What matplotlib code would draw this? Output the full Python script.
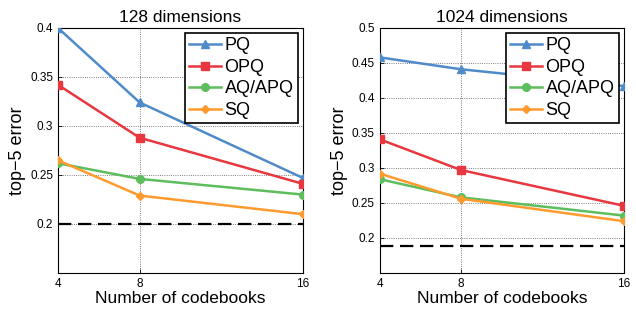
import numpy as np
import matplotlib.pyplot as plt

plt.rcParams['font.family'] = ['Liberation Sans', 'DejaVu Sans']

codebooks = [4, 8, 16]
methods = ['PQ', 'OPQ', 'AQ/APQ', 'SQ']
colors = ['#4f8ac9', '#e8373e', '#5ebd5c', '#ff9a2e']
markers = ['^', 's', 'o', 'D']

err_128 = {
    'PQ': [0.400, 0.324, 0.247],
    'OPQ': [0.342, 0.288, 0.241],
    'AQ/APQ': [0.262, 0.246, 0.230],
    'SQ': [0.265, 0.229, 0.210],
}
baseline_128 = 0.200

err_1024 = {
    'PQ': [0.458, 0.441, 0.417],
    'OPQ': [0.341, 0.297, 0.246],
    'AQ/APQ': [0.284, 0.258, 0.232],
    'SQ': [0.292, 0.256, 0.224],
}
baseline_1024 = 0.189

fig = plt.figure(figsize=(6.36, 3.09), dpi=100)
ax1 = fig.add_axes([0.0912, 0.1165, 0.385, 0.793])
ax2 = fig.add_axes([0.597, 0.1165, 0.384, 0.793])

panels = [
    (ax1, err_128, baseline_128, '128 dimensions', (0.15, 0.4),
     [0.2, 0.25, 0.3, 0.35, 0.4], ['0.2', '0.25', '0.3', '0.35', '0.4']),
    (ax2, err_1024, baseline_1024, '1024 dimensions', (0.15, 0.5),
     [0.2, 0.25, 0.3, 0.35, 0.4, 0.45, 0.5],
     ['0.2', '0.25', '0.3', '0.35', '0.4', '0.45', '0.5']),
]

for ax, errs, base, title, ylim, yt, ytl in panels:
    for m, c, mk in zip(methods, colors, markers):
        ms = 4.5 if mk == 'D' else 5.5
        ax.plot(codebooks, errs[m], color=c, marker=mk, markersize=ms,
                linewidth=1.8, label=m, zorder=3)
    ax.axhline(base, color='black', linestyle=(0, (6, 3)), linewidth=1.6, zorder=2)
    ax.set_xlim(4, 16)
    ax.set_ylim(*ylim)
    ax.set_xticks(codebooks)
    ax.set_xticklabels(['4', '8', '16'])
    ax.set_yticks(yt)
    ax.set_yticklabels(ytl)
    ax.tick_params(labelsize=8.5, direction='in', length=3, width=0.6)
    ax.grid(True, linestyle=':', color='#555555', linewidth=0.6)
    for s in ax.spines.values():
        s.set_linewidth(0.8)
    ax.set_title(title, fontsize=12.5, pad=4)
    ax.set_xlabel('Number of codebooks', fontsize=12.5, labelpad=1)
    ax.set_ylabel('top\u22125 error', fontsize=13, labelpad=3)
    leg = ax.legend(loc='upper right', fontsize=13, fancybox=False, framealpha=1,
                    edgecolor='black', handlelength=1.75, handletextpad=0.2,
                    borderpad=0.25, labelspacing=0.25, borderaxespad=0.27)
    leg.get_frame().set_linewidth(1.2)
    leg.set_zorder(5)

fig.savefig('out.png', dpi=100)
